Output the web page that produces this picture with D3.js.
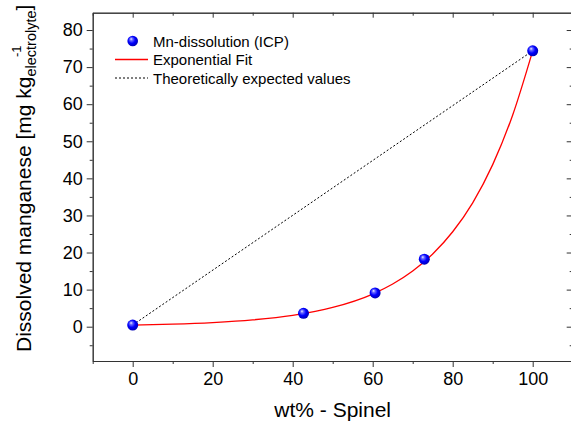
<!DOCTYPE html>
<html>
<head>
<meta charset="utf-8">
<script src="https://cdn.jsdelivr.net/npm/d3@7"></script>
<style>
  body { margin: 0; background: #fff; }
  svg { display: block; font-family: "Liberation Sans", Arial, sans-serif; }
</style>
</head>
<body>
<div id="chart"></div>
<script>
// measured points (ICP)
const spinelPct = [0, 42.7, 60.6, 72.9, 100];
const mnDissolved = [0.45, 3.6, 9.1, 18.2, 74.4];

// exponential fit curve
const fitX = [0, 10, 20, 30, 40, 50, 60, 65, 70, 75, 80, 85, 90, 95, 100];
const fitY = [0.45, 0.69, 1.12, 1.84, 3.07, 5.19, 8.8, 11.5, 15.0, 19.6, 25.6, 33.4, 43.7, 57.1, 74.4];

const xTicks = [0, 20, 40, 60, 80, 100];
const yTicks = [0, 10, 20, 30, 40, 50, 60, 70, 80];

const legendLabels = ["Mn-dissolution (ICP)", "Exponential Fit", "Theoretically expected values"];

const width = 571;
const height = 422;
const frame = { left: 92.7, right: 572.7, top: 12.7, bottom: 361 };

const svg = d3.select("#chart")
  .append("svg")
  .attr("width", width)
  .attr("height", height);

const x = d3.scaleLinear().domain([-10, 110]).range([frame.left, frame.right]);
const y = d3.scaleLinear().domain([-9.25, 84.67]).range([frame.bottom, frame.top]);

// sphere look for the markers
const grad = svg.append("defs").append("radialGradient")
  .attr("id", "ball")
  .attr("cx", "45%").attr("cy", "45%").attr("r", "60%")
  .attr("fx", "35%").attr("fy", "30%");
grad.append("stop").attr("offset", "0%").attr("stop-color", "#f0f0ff");
grad.append("stop").attr("offset", "22%").attr("stop-color", "#6a6aff");
grad.append("stop").attr("offset", "55%").attr("stop-color", "#0000ff");
grad.append("stop").attr("offset", "100%").attr("stop-color", "#0000a8");

const axisColor = "#333";

function styleAxis(sel, hideText) {
  sel.select(".domain").attr("stroke", axisColor);
  sel.selectAll(".tick line").attr("stroke", axisColor);
  sel.selectAll(".tick text")
    .attr("fill", "#000")
    .style("font-size", "18px")
    .style("font-family", "Liberation Sans, Arial, sans-serif");
  if (hideText) sel.selectAll(".tick text").remove();
}

const minorX = d3.range(-10, 111, 10).filter(v => !xTicks.includes(v));
const minorY = d3.range(-5, 85, 5).filter(v => !yTicks.includes(v));

// bottom
svg.append("g")
  .attr("transform", `translate(0,${frame.bottom})`)
  .call(d3.axisBottom(x).tickValues(xTicks).tickSize(6).tickPadding(5).tickSizeOuter(0))
  .call(g => styleAxis(g));
svg.append("g")
  .attr("transform", `translate(0,${frame.bottom})`)
  .call(d3.axisBottom(x).tickValues(minorX).tickSize(3).tickSizeOuter(0))
  .call(g => styleAxis(g, true));

// top (ticks inward)
svg.append("g")
  .attr("transform", `translate(0,${frame.top})`)
  .call(d3.axisBottom(x).tickValues(xTicks).tickSize(5).tickSizeOuter(0))
  .call(g => styleAxis(g, true));
svg.append("g")
  .attr("transform", `translate(0,${frame.top})`)
  .call(d3.axisBottom(x).tickValues(minorX).tickSize(3).tickSizeOuter(0))
  .call(g => styleAxis(g, true));

// left
svg.append("g")
  .attr("transform", `translate(${frame.left},0)`)
  .call(d3.axisLeft(y).tickValues(yTicks).tickSize(6).tickPadding(4).tickSizeOuter(0))
  .call(g => styleAxis(g));
svg.append("g")
  .attr("transform", `translate(${frame.left},0)`)
  .call(d3.axisLeft(y).tickValues(minorY).tickSize(3).tickSizeOuter(0))
  .call(g => styleAxis(g, true));

// right (ticks inward)
svg.append("g")
  .attr("transform", `translate(${frame.right},0)`)
  .call(d3.axisLeft(y).tickValues(yTicks).tickSize(6).tickSizeOuter(0))
  .call(g => styleAxis(g, true));
svg.append("g")
  .attr("transform", `translate(${frame.right},0)`)
  .call(d3.axisLeft(y).tickValues(minorY).tickSize(3).tickSizeOuter(0))
  .call(g => styleAxis(g, true));

// axis titles
svg.append("text")
  .attr("x", (frame.left + frame.right) / 2)
  .attr("y", 417)
  .attr("text-anchor", "middle")
  .style("font-size", "21px")
  .text("wt% - Spinel");

const yTitle = svg.append("text")
  .attr("transform", "rotate(-90)")
  .attr("x", -352)
  .attr("y", 31)
  .style("font-size", "21px");
yTitle.append("tspan").text("Dissolved manganese [mg kg");
yTitle.append("tspan").attr("dy", 5).style("font-size", "14.5px").text("electrolyte");
yTitle.append("tspan").attr("dy", -5).text("]");
yTitle.append("tspan").attr("x", -57).attr("dy", -10).style("font-size", "13px").text("-1");

// theoretically expected (straight line between end points)
const n = spinelPct.length - 1;
svg.append("line")
  .attr("x1", x(spinelPct[0])).attr("y1", y(mnDissolved[0]))
  .attr("x2", x(spinelPct[n])).attr("y2", y(mnDissolved[n]))
  .attr("stroke", "#000")
  .attr("stroke-width", 1)
  .attr("stroke-dasharray", "2,2");

// exponential fit
const fitData = fitX.map((v, i) => [v, fitY[i]]);
svg.append("path")
  .datum(fitData)
  .attr("fill", "none")
  .attr("stroke", "#ff0000")
  .attr("stroke-width", 1.3)
  .attr("d", d3.line().x(d => x(d[0])).y(d => y(d[1])).curve(d3.curveMonotoneX));

// points
svg.selectAll("circle.pt")
  .data(spinelPct.map((v, i) => [v, mnDissolved[i]]))
  .enter()
  .append("circle")
  .attr("class", "pt")
  .attr("cx", d => x(d[0]))
  .attr("cy", d => y(d[1]))
  .attr("r", 5.5)
  .attr("fill", "url(#ball)");

// legend
const legend = svg.append("g");
const rowY = [41, 59.5, 78];
legend.append("circle")
  .attr("cx", 132.7).attr("cy", rowY[0]).attr("r", 5.3)
  .attr("fill", "url(#ball)");
legend.append("path")
  .attr("d", `M115,${rowY[1]}H148`)
  .style("stroke", "#ff0000")
  .style("stroke-width", "1.4px")
  .style("fill", "none");
legend.append("path")
  .attr("d", `M115,${rowY[2]}H148`)
  .style("stroke", "#000")
  .style("stroke-width", "1px")
  .style("stroke-dasharray", "2,2")
  .style("fill", "none");
legend.selectAll("text")
  .data(legendLabels)
  .enter()
  .append("text")
  .attr("x", 153)
  .attr("y", (d, i) => rowY[i] + 5.5)
  .style("font-size", "15px")
  .text(d => d);
</script>
</body>
</html>
